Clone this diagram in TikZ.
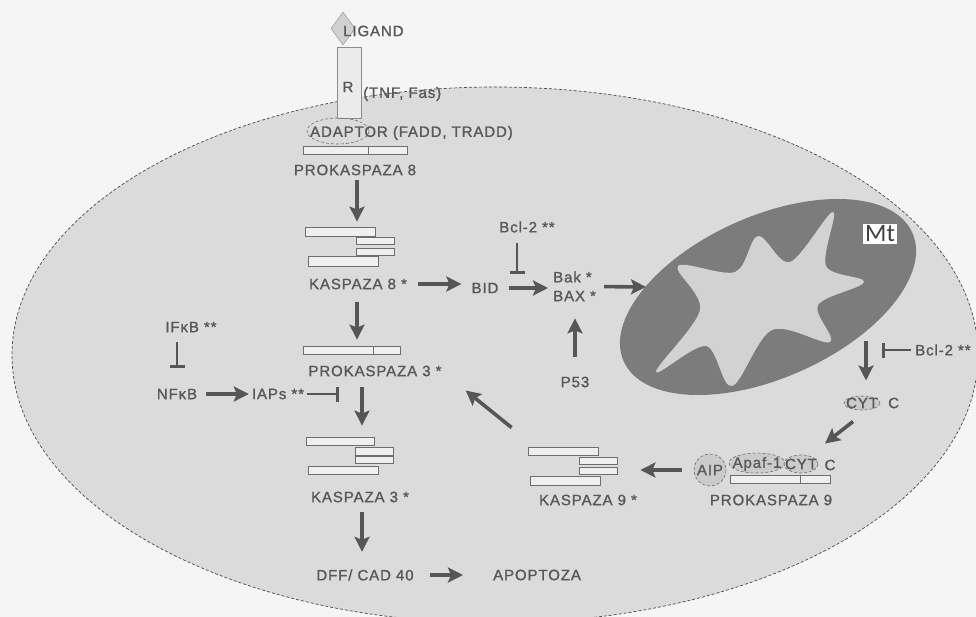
\documentclass[tikz,border=0pt]{standalone}
\usepackage{fontspec}
\setmainfont[LetterSpace=6, FakeBold=1.2]{Liberation Sans}
\newfontfamily\mtfont{Carlito}
\usetikzlibrary{arrows.meta,calc,shapes.geometric}

\definecolor{bg}{HTML}{F5F5F5}
\definecolor{cellfill}{HTML}{DBDBDB}
\definecolor{cellline}{HTML}{4A4A4A}
\definecolor{txt}{HTML}{585858}
\definecolor{arr}{HTML}{565656}
\definecolor{mtdark}{HTML}{7C7C7C}
\definecolor{mtlight}{HTML}{D2D2D2}
\definecolor{barline}{HTML}{6E6E6E}
\definecolor{barfill}{HTML}{EFEFEF}
\definecolor{blob}{HTML}{CBCBCB}

\newcommand{\lblfont}{\fontsize{15}{18}\selectfont}
% \pbar{name}{x1}{y1}{x2}{y2}: one segment of a caspase bar
\newcommand{\pbar}[5]{\node[barbox, minimum width={(#4-#2)*1pt}, minimum height={(#5-#3)*1pt}] (#1) at ({(#2+#4)/2},{(#3+#5)/2}) {};}

\tikzset{
  lbl/.style={font=\lblfont, text=txt, inner sep=0pt},
  barbox/.style={draw=barline, fill=barfill, line width=0.8pt, inner sep=0pt, rectangle},
  act/.style={draw=arr, line width=3.6pt, -{Stealth[length=15pt, width=15pt, inset=3pt]}},
  inh/.style={draw=arr, line width=2.8pt, -{Bar[width=15pt, line width=3pt]}},
  blobline/.style={draw=barline, densely dashed, line width=0.6pt, fill=blob},
}

\begin{document}
\begin{tikzpicture}[x=1pt,y=-1pt]
\useasboundingbox (0,0) rectangle (976,617);
\fill[bg] (0,0) rectangle (976,617);

% cell
\begin{scope}
  \clip (0,0) rectangle (976,617);
  \filldraw[fill=cellfill, draw=cellline, densely dashed, line width=0.7pt]
    (495,355) ellipse [x radius=483, y radius=268];
\end{scope}

% mitochondrion
\begin{scope}[shift={(768,297)}, rotate=24]
  \fill[mtdark] (0,0) ellipse [x radius=158, y radius=81];
\end{scope}
\fill[mtlight] plot[smooth cycle, tension=0.55] coordinates {
  (758,236) (790,262) (833,212) (826,266) (864,282) (818,305)
  (830,342) (772,330) (732,386) (706,346) (656,372) (700,310)
  (678,266) (735,272)};
\node[fill=white, text=black!75, font=\mtfont\fontsize{25}{28}\selectfont, inner sep=2pt] (mt) at (880,234) {Mt};

% receptor and ligand
\node[draw=black!45, fill=black!8, minimum width=24pt, minimum height=71pt, inner sep=0pt] (rec) at (349,82.5) {};
\node[diamond, draw=black!45, fill=black!18, minimum width=24pt, minimum height=33pt, inner sep=0pt] (lig) at (343,28.5) {};
\node[lbl, anchor=west] (ligt) at (343,31) {LIGAND};
\node[lbl] (rt) at (348,87) {R};
\node[lbl, anchor=west] (tnf) at (363,94) {(TNF, Fas)};
\draw[draw=barline, densely dashed, line width=0.6pt] (338,131) ellipse [x radius=31, y radius=13];
\node[lbl, anchor=west] (adapt) at (310,133) {ADAPTOR (FADD, TRADD)};

% procaspase 8 and caspase 8
\pbar{pk8a}{303}{146}{368}{154}
\pbar{pk8b}{368}{146}{407}{154}
\node[lbl] (pk8) at (355,170) {PROKASPAZA 8};
\pbar{k8a}{305}{227}{375}{236}
\pbar{k8b}{356}{237}{394}{244}
\pbar{k8c}{356}{248}{394}{255}
\pbar{k8d}{308}{256}{378}{266}
\node[lbl] (k8) at (358,284) {KASPAZA 8 *};

% procaspase 3 and caspase 3
\pbar{pk3a}{303}{346}{373}{354}
\pbar{pk3b}{373}{346}{400}{354}
\node[lbl] (pk3) at (375,371) {PROKASPAZA 3 *};
\pbar{k3a}{306}{437}{374}{445}
\pbar{k3b}{355}{447}{393}{455}
\pbar{k3c}{355}{456}{393}{463}
\pbar{k3d}{308}{466}{378}{474}
\node[lbl] (k3) at (360,497) {KASPAZA 3 *};
\node[lbl] (dff) at (365,575) {DFF/ CAD 40};
\node[lbl, anchor=west] (apop) at (493,575) {APOPTOZA};

% BID / Bcl-2 / Bak, BAX / P53
\node[lbl] (bid) at (485,288) {BID};
\node[lbl] (bcl2a) at (527,227) {Bcl-2 **};
\node[lbl, anchor=west] (bak) at (553,277) {Bak *};
\node[lbl, anchor=west] (bax) at (553,296) {BAX *};
\node[lbl] (p53) at (575,382) {P53};

% NF-kB branch
\node[lbl] (ifkb) at (191,327) {IFκB **};
\node[lbl] (nfkb) at (177,394) {NFκB};
\node[lbl] (iaps) at (278,394) {IAPs **};

% cytochrome c, apoptosome, caspase 9
\draw[blobline] (862,403) ellipse [x radius=18, y radius=7];
\node[lbl] (cyt) at (862,403) {CYT};
\node[lbl, anchor=west] (cytC) at (888,403) {C};
\node[lbl, anchor=west] (bcl2b) at (915,350) {Bcl-2 **};
\draw[blobline] (710,470) circle [radius=16];
\draw[blobline] (757,463) ellipse [x radius=28, y radius=10];
\draw[blobline] (801,464) ellipse [x radius=17, y radius=9];
\node[lbl] (aip) at (710,470) {AIP};
\node[lbl] (apaf) at (757,464) {Apaf-1};
\node[lbl] (cyt2) at (801,464) {CYT};
\node[lbl] (c2) at (830,465) {C};
\pbar{pk9a}{730}{475}{800}{483}
\pbar{pk9b}{800}{475}{830}{483}
\node[lbl] (pk9) at (771,500) {PROKASPAZA 9};
\pbar{k9a}{528}{447}{598}{455}
\pbar{k9b}{579}{457}{617}{464}
\pbar{k9c}{579}{467}{617}{474}
\pbar{k9d}{530}{476}{600}{485}
\node[lbl] (k9) at (588,500) {KASPAZA 9 *};

% helper coordinates for connector ends
\coordinate (colA) at (357,0);
\coordinate (colB) at (362,0);
\coordinate (mtwest) at (646,287);
\coordinate (mtout) at (866,341);
\coordinate (bidhit) at (517,274);
\coordinate (iapsstop) at (339,397);
\coordinate (cythit) at (882,350);

% activation arrows
\draw[act, shorten <=4.5pt, shorten >=5pt] (pk8.south -| colA) -- (k8a.north -| colA);
\draw[act, shorten <=12pt, shorten >=6pt] (k8.south -| colA) -- (pk3a.north -| colA);
\draw[act, shorten <=10.5pt, shorten >=11pt] (pk3.south -| colB) -- (k3a.north -| colB);
\draw[act, shorten <=9.5pt, shorten >=17.5pt] (k3.south -| colB) -- (dff.north -| colB);
\draw[act, shorten <=16pt, shorten >=30pt] (dff.east) -- (apop.west);
\draw[act, shorten <=11pt, shorten >=10pt] (k8.east) -- (k8.east -| bid.west);
\draw[act, shorten <=10pt, shorten >=5pt] (bid.east) -- (bid.east -| bak.west);
\draw[act, shorten <=10pt] ($(bak.east)!0.5!(bax.east)$) -- (mtwest);
\draw[act, shorten <=19pt, shorten >=17pt] (p53.north) -- (p53.north |- bax.south);
\draw[act] ($(k9a.north west)+(-16,-19)$) -- ($(pk3.south east)+(24,14)$);
\draw[act, shorten <=9pt, shorten >=3pt] (nfkb.east) -- (iaps.west);
\draw[act, shorten >=17pt] (mtout) -- (mtout |- cyt.north);
\draw[act] ($(cyt.south)+(-9,13)$) -- ($(cyt2.north)+(24,-15)$);
\draw[act, shorten <=15pt, shorten >=23pt] (aip.west) -- (aip.west -| k9b.east);

% inhibition bars
\draw[inh, shorten <=10pt, shorten >=21pt] (ifkb.south -| nfkb.north) -- (nfkb.north);
\draw[inh, shorten <=3pt] (iaps.east) -- (iaps.east -| iapsstop);
\draw[inh, shorten <=10pt] (bcl2a.south -| bidhit) -- (bidhit);
\draw[inh, shorten <=4pt] (bcl2b.west) -- (cythit);
\end{tikzpicture}
\end{document}
